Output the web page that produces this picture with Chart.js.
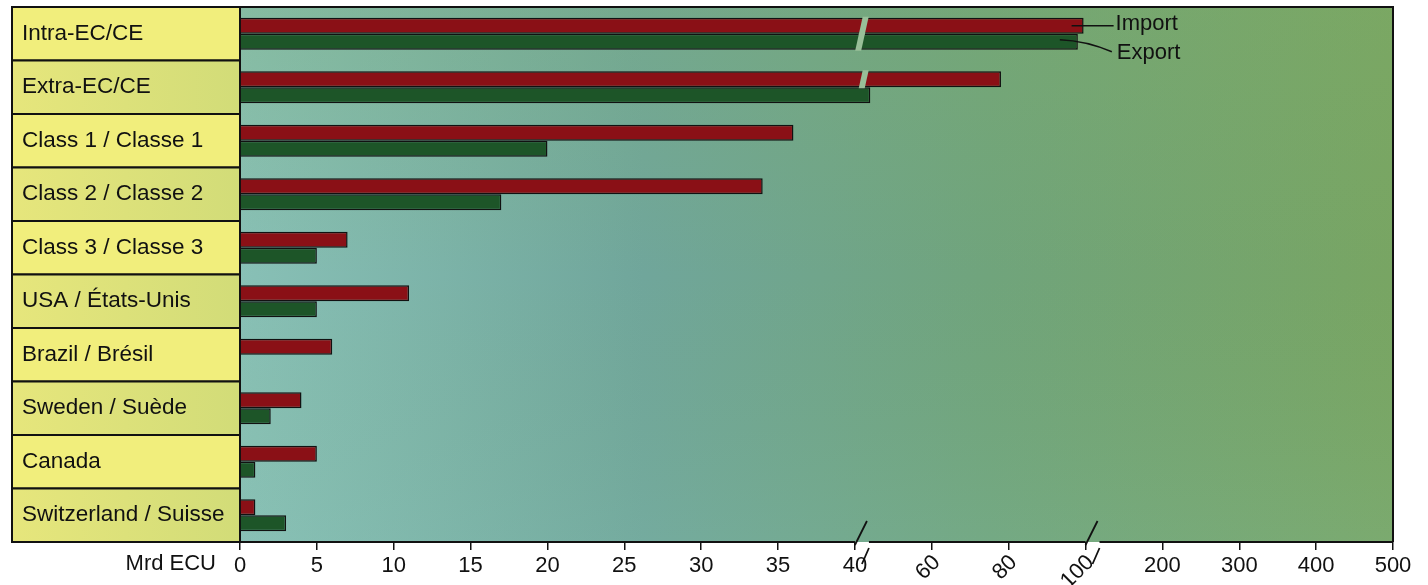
<!DOCTYPE html>
<html lang="en">
<head>
  <meta charset="UTF-8">
  <title>Import / Export</title>
  <script src="https://cdn.jsdelivr.net/npm/chart.js"></script>
  <style>
    html, body { margin: 0; padding: 0; background: #fff; }
    #wrap { width: 1428px; height: 585px; }
  </style>
</head>
<body>
  <div id="wrap"><canvas id="tradeChart" width="1428" height="585"></canvas></div>

  <script>
    const categories = [
      "Intra-EC/CE", "Extra-EC/CE", "Class 1 / Classe 1", "Class 2 / Classe 2",
      "Class 3 / Classe 3", "USA / États-Unis", "Brazil / Brésil",
      "Sweden / Suède", "Canada", "Switzerland / Suisse"
    ];
    const importValues = [99.5, 78, 36, 34, 7, 11, 6, 4, 5, 1];
    const exportValues = [98, 44, 20, 17, 5, 5, 0, 2, 1, 3];
    const tickValues = [0, 5, 10, 15, 20, 25, 30, 35, 40, 60, 80, 100, 200, 300, 400, 500];
    const rotatedTicks = [60, 80, 100];
    const axisBreaks = [40, 100];

    // broken axis: 0-40 (8 steps), 40-100 (3 steps), 100-500 (4 steps)
    function toDecimal(v) {
      if (v <= 40) return (v / 40 * 8) / 15;
      if (v <= 100) return (8 + (v - 40) / 60 * 3) / 15;
      return (11 + (v - 100) / 400 * 4) / 15;
    }
    function fromDecimal(d) {
      const s = d * 15;
      if (s <= 8) return s / 8 * 40;
      if (s <= 11) return 40 + (s - 8) / 3 * 60;
      return 100 + (s - 11) / 4 * 400;
    }

    class BrokenScale extends Chart.LinearScale {
      buildTicks() {
        return tickValues.map(v => ({ value: v }));
      }
      getPixelForValue(v) {
        return this.getPixelForDecimal(toDecimal(v));
      }
      getValueForPixel(p) {
        return fromDecimal(this.getDecimalForPixel(p));
      }
    }
    BrokenScale.id = "broken";
    BrokenScale.defaults = Chart.LinearScale.defaults;
    Chart.register(BrokenScale);

    Chart.defaults.font.family = '"Liberation Sans", Arial, sans-serif';
    Chart.defaults.font.size = 22;
    Chart.defaults.color = "#111";

    const FONT = '22px "Liberation Sans", Arial, sans-serif';

    const decorPlugin = {
      id: "decor",
      beforeDraw(chart) {
        const ctx = chart.ctx;
        const a = chart.chartArea;
        ctx.save();
        // background of plot
        const g = ctx.createLinearGradient(a.left, 0, a.right, 0);
        g.addColorStop(0, "#88c0b6");
        g.addColorStop(0.35, "#70a69b");
        g.addColorStop(0.65, "#70a47c");
        g.addColorStop(1, "#78a563");
        ctx.fillStyle = g;
        ctx.fillRect(a.left, a.top, a.right - a.left, a.bottom - a.top);
        const g2 = ctx.createLinearGradient(0, a.top, 0, a.bottom);
        g2.addColorStop(0, "rgba(130,175,100,0.25)");
        g2.addColorStop(0.5, "rgba(130,175,100,0)");
        g2.addColorStop(1, "rgba(140,200,180,0.15)");
        ctx.fillStyle = g2;
        ctx.fillRect(a.left, a.top, a.right - a.left, a.bottom - a.top);

        // yellow label boxes
        const h = (a.bottom - a.top) / categories.length;
        for (let i = 0; i < categories.length; i++) {
          const y = a.top + i * h;
          let fill;
          if (i % 2 === 0) {
            fill = "#f1ee7c";
          } else {
            fill = ctx.createLinearGradient(12, 0, a.left, 0);
            fill.addColorStop(0, "#e6e67c");
            fill.addColorStop(1, "#d2dc78");
          }
          ctx.fillStyle = fill;
          ctx.fillRect(12, y, a.left - 12, h);
          ctx.strokeStyle = "#111";
          ctx.lineWidth = 2;
          ctx.strokeRect(12, y, a.left - 12, h);
        }
        ctx.restore();
      },
      afterDatasetsDraw(chart) {
        const ctx = chart.ctx;
        const a = chart.chartArea;
        const xs = chart.scales.x;
        ctx.save();

        // break gaps through the long bars
        const gapX = xs.getPixelForValue(40) + 7;
        [0, 1].forEach(d => {
          const meta = chart.getDatasetMeta(d);
          const vals = d === 0 ? importValues : exportValues;
          meta.data.forEach((bar, i) => {
            if (vals[i] <= 60) return;
            const rowC = chart.scales.y.getPixelForValue(i);
            const t = bar.y - bar.height / 2 - 1;
            const b = bar.y + bar.height / 2 + 1;
            const xl = y => gapX - 3 + (rowC - y) * 0.22;
            ctx.fillStyle = "#98bf98";
            ctx.beginPath();
            ctx.moveTo(xl(t), t);
            ctx.lineTo(xl(t) + 6, t);
            ctx.lineTo(xl(b) + 6, b);
            ctx.lineTo(xl(b), b);
            ctx.closePath();
            ctx.fill();
          });
        });

        // frame: top and right
        ctx.strokeStyle = "#111";
        ctx.lineWidth = 2;
        ctx.beginPath();
        ctx.moveTo(12, a.top);
        ctx.lineTo(a.right, a.top);
        ctx.lineTo(a.right, a.bottom);
        ctx.stroke();

        // x axis line with breaks
        const breakPx = axisBreaks.map(v => xs.getPixelForValue(v));
        ctx.beginPath();
        let start = a.left;
        breakPx.forEach(p => {
          ctx.moveTo(start, a.bottom);
          ctx.lineTo(p, a.bottom);
          start = p + 14;
        });
        ctx.moveTo(start, a.bottom);
        ctx.lineTo(a.right, a.bottom);
        ctx.stroke();
        ctx.lineWidth = 1.8;
        breakPx.forEach(p => {
          ctx.beginPath();
          ctx.moveTo(p, a.bottom + 3);
          ctx.lineTo(p + 12, a.bottom - 21);
          ctx.moveTo(p + 7, a.bottom + 22);
          ctx.lineTo(p + 14, a.bottom + 6);
          ctx.stroke();
        });

        // rotated tick labels
        ctx.fillStyle = "#111";
        ctx.font = FONT;
        ctx.textAlign = "right";
        ctx.textBaseline = "middle";
        rotatedTicks.forEach(v => {
          const p = xs.getPixelForValue(v);
          ctx.save();
          ctx.translate(p + 5, a.bottom + 17);
          ctx.rotate(-Math.PI / 4);
          ctx.fillText(String(v), 0, 0);
          ctx.restore();
        });

        // unit label
        ctx.textAlign = "right";
        ctx.fillText("Mrd ECU", 216, a.bottom + 22);

        // series labels with leader lines
        const impBar = chart.getDatasetMeta(0).data[0];
        const expBar = chart.getDatasetMeta(1).data[0];
        ctx.lineWidth = 1.5;
        ctx.beginPath();
        ctx.moveTo(impBar.x - 12, impBar.y);
        ctx.lineTo(impBar.x + 30, impBar.y);
        ctx.moveTo(expBar.x - 18, expBar.y - 2);
        ctx.quadraticCurveTo(expBar.x + 8, expBar.y - 1, expBar.x + 34, expBar.y + 10);
        ctx.stroke();
        ctx.textAlign = "left";
        ctx.fillText("Import", impBar.x + 32, impBar.y - 2);
        ctx.fillText("Export", expBar.x + 39, expBar.y + 11);

        ctx.restore();
      }
    };

    new Chart(document.getElementById("tradeChart"), {
      type: "bar",
      data: {
        labels: categories,
        datasets: [
          {
            label: "Import",
            data: importValues,
            backgroundColor: "#8a1016",
            borderColor: "#111",
            borderWidth: 1.5
          },
          {
            label: "Export",
            data: exportValues,
            backgroundColor: "#1d5528",
            borderColor: "#111",
            borderWidth: 1.5
          }
        ]
      },
      options: {
        indexAxis: "y",
        responsive: false,
        animation: false,
        layout: { padding: { left: 22, right: 35, top: 7, bottom: 0 } },
        datasets: { bar: { categoryPercentage: 0.6, barPercentage: 1 } },
        plugins: { legend: { display: false }, tooltip: { enabled: false } },
        scales: {
          x: {
            type: "broken",
            min: 0,
            max: 500,
            border: { display: false },
            grid: { drawOnChartArea: false, drawTicks: true, tickLength: 8, color: "#111", lineWidth: 1.5 },
            ticks: {
              autoSkip: false,
              maxRotation: 0,
              minRotation: 0,
              padding: 3,
              callback: v => rotatedTicks.includes(v) ? "" : String(v)
            },
            afterFit: s => { s.height = 43; }
          },
          y: {
            grid: { display: false },
            border: { display: false },
            ticks: { crossAlign: "far", autoSkip: false, padding: 0, font: { size: 22.5, lineHeight: 0.5 } },
            afterFit: s => { s.width = 218; }
          }
        }
      },
      plugins: [decorPlugin]
    });
  </script>
</body>
</html>
